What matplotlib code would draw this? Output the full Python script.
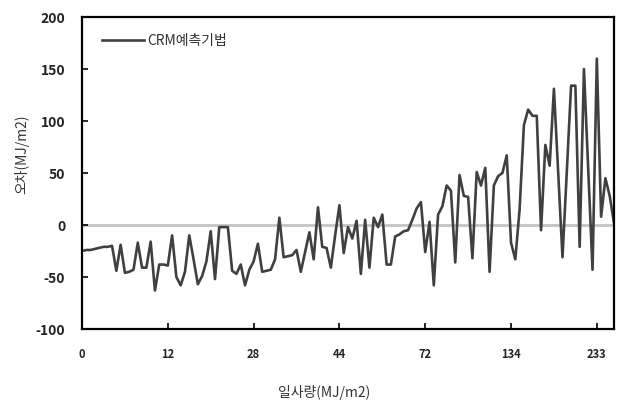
import matplotlib
matplotlib.use('Agg')
import matplotlib.pyplot as plt

# error of the CRM prediction, one value per sorted radiation sample
errors = [
    -25, -24, -24, -23, -22, -21, -21, -20, -44, -19,
    -46, -45, -43, -17, -41, -41, -16, -63, -38, -38,
    -39, -10, -50, -58, -45, -10, -33, -57, -49, -35,
    -6, -52, -2, -2, -2, -44, -47, -38, -58, -43,
    -35, -18, -45, -44, -43, -33, 7, -31, -30, -29,
    -24, -45, -26, -7, -33, 17, -21, -22, -41, -10,
    19, -27, -2, -13, 4, -47, 5, -41, 7, -2,
    10, -38, -38, -11, -9, -6, -5, 5, 16, 22,
    -26, 3, -58, 10, 18, 38, 33, -36, 48, 28,
    27, -32, 51, 38, 55, -45, 38, 47, 50, 67,
    -17, -33, 15, 96, 111, 105, 105, -5, 77, 57,
    131, 50, -31, 51, 134, 134, -21, 150, 53, -43,
    160, 8, 45, 28, 2,
]
tick_every = 20
tick_labels = ['0', '12', '28', '44', '72', '134', '233']
y_ticks = [-100, -50, 0, 50, 100, 150, 200]

series_name = 'CRM예측기법'
x_title = '일사량(MJ/m2)'
y_title = '오차(MJ/m2)'

kr = ['Noto Sans CJK KR', 'DejaVu Sans']
plt.rcParams['font.family'] = kr
plt.rcParams['axes.unicode_minus'] = False  # plain hyphen like the original

figure = plt.figure(figsize=(6.18, 4.11), dpi=100)
axes = figure.add_axes([0.1327, 0.1995, 0.8608, 0.7591])

x = list(range(len(errors)))
axes.axhline(0, color='#c4c4c4', lw=2.0, zorder=1)
axes.plot(x, errors, color='#404040', lw=1.9, label=series_name, zorder=2)

axes.set_xlim(0, len(errors) - 1)
axes.set_ylim(-100, 200)
axes.set_xticks(list(range(0, len(errors), tick_every)))
axes.set_xticklabels(tick_labels)
axes.set_yticks(y_ticks)

for side in ['left', 'right', 'top', 'bottom']:
    axes.spines[side].set_linewidth(1.6)
    axes.spines[side].set_color('black')

axes.tick_params(axis='both', direction='in', length=4, width=1.2, colors='black')
axes.tick_params(axis='y', pad=12, labelsize=10, labelcolor='#222222')
axes.tick_params(axis='x', pad=14, labelsize=8, labelcolor='#222222')
for lab in axes.get_xticklabels() + axes.get_yticklabels():
    lab.set_fontweight('bold')

axes.set_ylabel(y_title, fontsize=10, color='#333333')
axes.yaxis.set_label_coords(-0.10, 0.56)
figure.text(0.525, 0.045, x_title, ha='center', va='center', fontsize=10, color='#333333')

leg = axes.legend(loc='upper left', bbox_to_anchor=(0.015, 0.985), frameon=False,
                  handlelength=3.0, handletextpad=0.2, fontsize=10)
for t in leg.get_texts():
    t.set_color('#333333')

figure.savefig('out.png', dpi=100)
